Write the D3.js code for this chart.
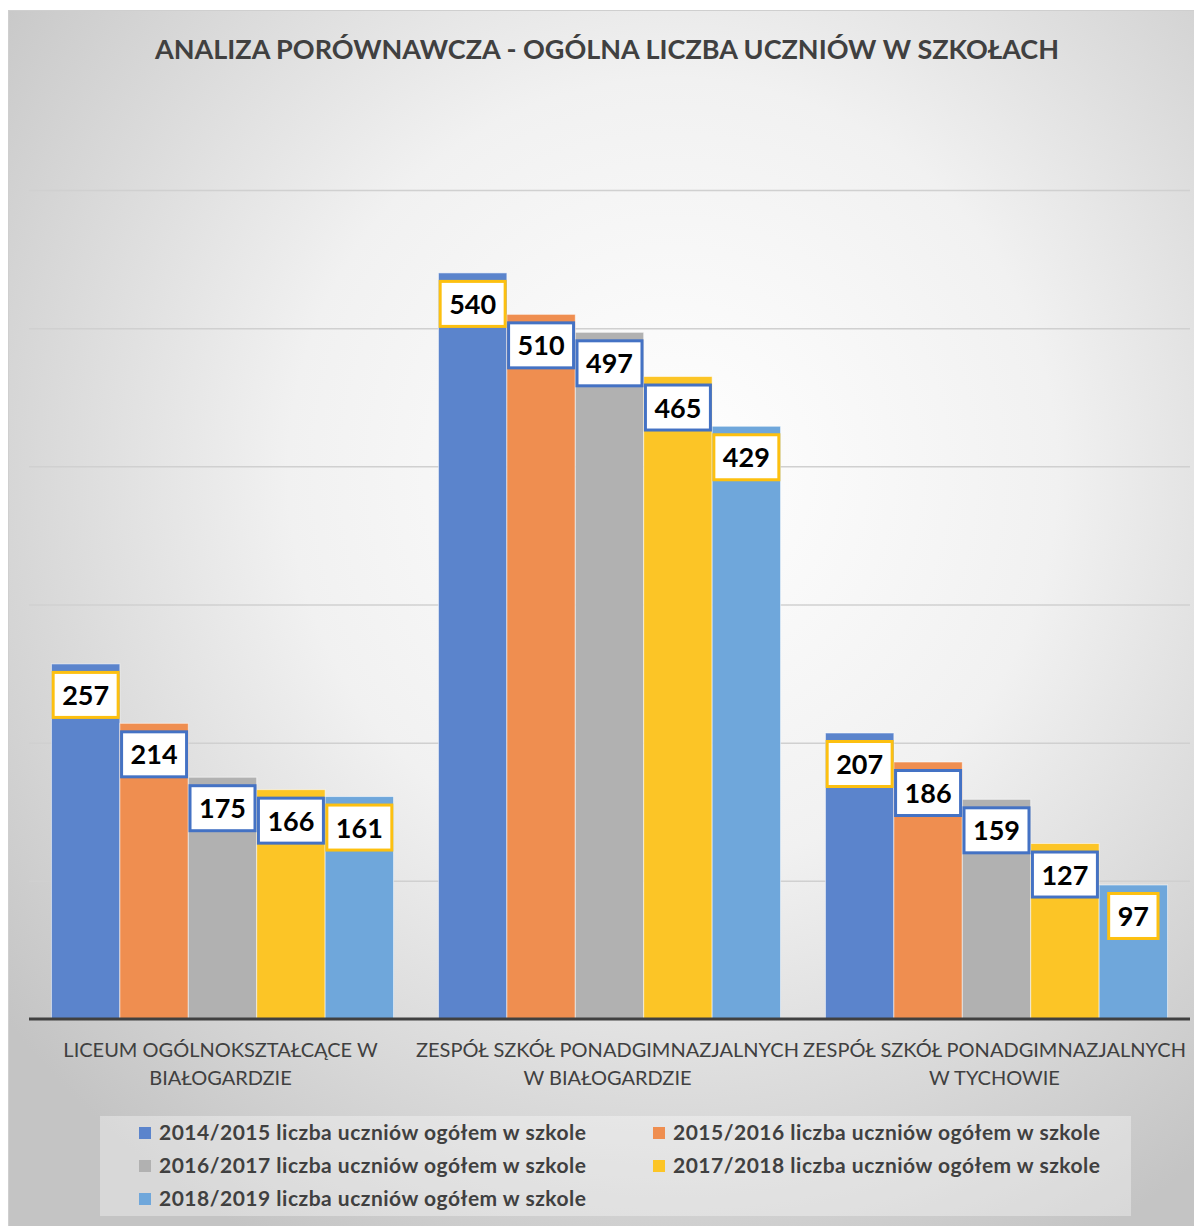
<!DOCTYPE html>
<html>
<head>
	<meta charset="utf-8">
	<title>Analiza porównawcza</title>
	<style type="text/css">
		body {
			margin: 0;
			background: white;
		}
		svg text {
			font-family: Lato, "Open Sans", sans-serif;
		}
		.title {
			font-weight: bold;
			font-size: 27px;
			fill: #404040;
		}
		.cat-label {
			font-size: 20px;
			fill: #404040;
		}
		.legend-txt {
			font-weight: bold;
			font-size: 21px;
			letter-spacing: 0.5px;
			fill: #404040;
		}
		.value-txt {
			font-weight: bold;
			font-size: 27px;
			fill: #000;
		}
	</style>
</head>
<body>
<svg id="chart"></svg>

<script src="https://d3js.org/d3.v7.min.js"></script>
<script type="text/javascript">
	var categories = [
		["LICEUM OGÓLNOKSZTAŁCĄCE W", "BIAŁOGARDZIE"],
		["ZESPÓŁ SZKÓŁ PONADGIMNAZJALNYCH", "W BIAŁOGARDZIE"],
		["ZESPÓŁ SZKÓŁ PONADGIMNAZJALNYCH", "W TYCHOWIE"]
	];
	var seriesNames = [
		"2014/2015 liczba uczniów ogółem w szkole",
		"2015/2016 liczba uczniów ogółem w szkole",
		"2016/2017 liczba uczniów ogółem w szkole",
		"2017/2018 liczba uczniów ogółem w szkole",
		"2018/2019 liczba uczniów ogółem w szkole"
	];
	// values per school, one number per school year
	var values2014 = [257, 540, 207];
	var values2015 = [214, 510, 186];
	var values2016 = [175, 497, 159];
	var values2017 = [166, 465, 127];
	var values2018 = [161, 429, 97];
	var gridTicks = [0, 100, 200, 300, 400, 500, 600];

	var colors = ["#5b84cc", "#ef8e50", "#b1b1b1", "#fcc526", "#6fa7db"];
	var boxColors = ["#fdc010", "#4472c4", "#4472c4", "#4472c4", "#fdc010"];

	var allSeries = [values2014, values2015, values2016, values2017, values2018];

	var W = 1194, H = 1226;
	var svg = d3.select("#chart").attr("width", W).attr("height", H);

	// background gradient
	var defs = svg.append("defs");
	var grad = defs.append("radialGradient")
		.attr("id", "bg")
		.attr("cx", "0.56").attr("cy", "0.38").attr("r", "0.72");
	grad.append("stop").attr("offset", "0").attr("stop-color", "#ffffff");
	grad.append("stop").attr("offset", "0.45").attr("stop-color", "#f1f1f1");
	grad.append("stop").attr("offset", "1").attr("stop-color", "#c4c4c4");

	svg.append("rect")
		.attr("x", 8.5).attr("y", 10.5)
		.attr("width", W - 8).attr("height", H - 10)
		.attr("fill", "url(#bg)")
		.attr("stroke", "#cfcfcf");

	svg.append("text")
		.attr("class", "title")
		.attr("x", 607).attr("y", 59)
		.attr("text-anchor", "middle")
		.text("ANALIZA PORÓWNAWCZA - OGÓLNA LICZBA UCZNIÓW W SZKOŁACH");

	// scales
	var x0 = d3.scaleBand()
		.domain(d3.range(categories.length))
		.range([29, 1190])
		.paddingInner(0.116)
		.paddingOuter(0.058);

	var x1 = d3.scaleBand()
		.domain(d3.range(allSeries.length))
		.range([0, x0.bandwidth()]);

	var y = d3.scaleLinear().domain([0, 600]).range([1019, 190]);

	// gridlines
	svg.append("g").selectAll("line")
		.data(gridTicks.slice(1))
		.enter().append("line")
		.attr("x1", 29).attr("x2", 1190)
		.attr("y1", d => y(d) + 0.5).attr("y2", d => y(d) + 0.5)
		.attr("stroke", "#d0d0d0")
		.attr("stroke-width", 1.5);

	// bars
	var groups = svg.append("g").selectAll("g")
		.data(categories)
		.enter().append("g")
		.attr("transform", (d, i) => `translate(${x0(i)},0)`);

	groups.selectAll("rect")
		.data((d, i) => allSeries.map((s, j) => ({ s: j, v: s[i] })))
		.enter().append("rect")
		.attr("x", d => x1(d.s))
		.attr("y", d => y(d.v))
		.attr("width", x1.bandwidth())
		.attr("height", d => y(0) - y(d.v))
		.attr("fill", d => colors[d.s])
		.attr("stroke", "rgba(255,255,255,0.55)")
		.attr("stroke-width", 1);

	// baseline
	svg.append("line")
		.attr("x1", 29).attr("x2", 1190)
		.attr("y1", y(0)).attr("y2", y(0))
		.attr("stroke", "#404040")
		.attr("stroke-width", 3);

	// value labels in boxes
	var labels = groups.selectAll(".value")
		.data((d, i) => allSeries.map((s, j) => ({ s: j, v: s[i] })))
		.enter().append("g")
		.attr("class", "value");

	labels.each(function(d) {
		var g = d3.select(this);
		var cx = x1(d.s) + x1.bandwidth() / 2;
		var top = y(d.v) + 7;
		var rect = g.append("rect");
		var txt = g.append("text")
			.attr("class", "value-txt")
			.attr("x", cx)
			.attr("y", top + 34)
			.attr("text-anchor", "middle")
			.text(d.v);
		var tw = txt.node().getComputedTextLength();
		var bw = tw + 18;
		rect.attr("x", cx - bw / 2)
			.attr("y", top + 1.5)
			.attr("width", bw)
			.attr("height", 45)
			.attr("fill", "white")
			.attr("stroke", boxColors[d.s])
			.attr("stroke-width", 3);
	});

	// category labels
	svg.append("g").selectAll("text")
		.data(categories)
		.enter().append("text")
		.attr("class", "cat-label")
		.attr("text-anchor", "middle")
		.attr("x", (d, i) => x0(i) + x0.bandwidth() / 2 - 2)
		.attr("y", 1057)
		.each(function(d) {
			var t = d3.select(this);
			d.forEach((line, k) => {
				t.append("tspan")
					.attr("x", t.attr("x"))
					.attr("dy", k === 0 ? 0 : 28)
					.text(line);
			});
		});

	// legend
	svg.append("rect")
		.attr("x", 100).attr("y", 1116)
		.attr("width", 1031).attr("height", 100)
		.attr("fill", "rgba(255,255,255,0.35)");

	var legendCols = [139, 653];
	var legend = svg.append("g").selectAll("g")
		.data(seriesNames)
		.enter().append("g")
		.attr("transform", (d, i) => `translate(${legendCols[i % 2]},${1127 + Math.floor(i / 2) * 33})`);

	legend.append("rect")
		.attr("width", 12).attr("height", 12)
		.attr("fill", (d, i) => colors[i]);

	legend.append("text")
		.attr("class", "legend-txt")
		.attr("x", 20).attr("y", 13)
		.text(d => d);
</script>
</body>
</html>
